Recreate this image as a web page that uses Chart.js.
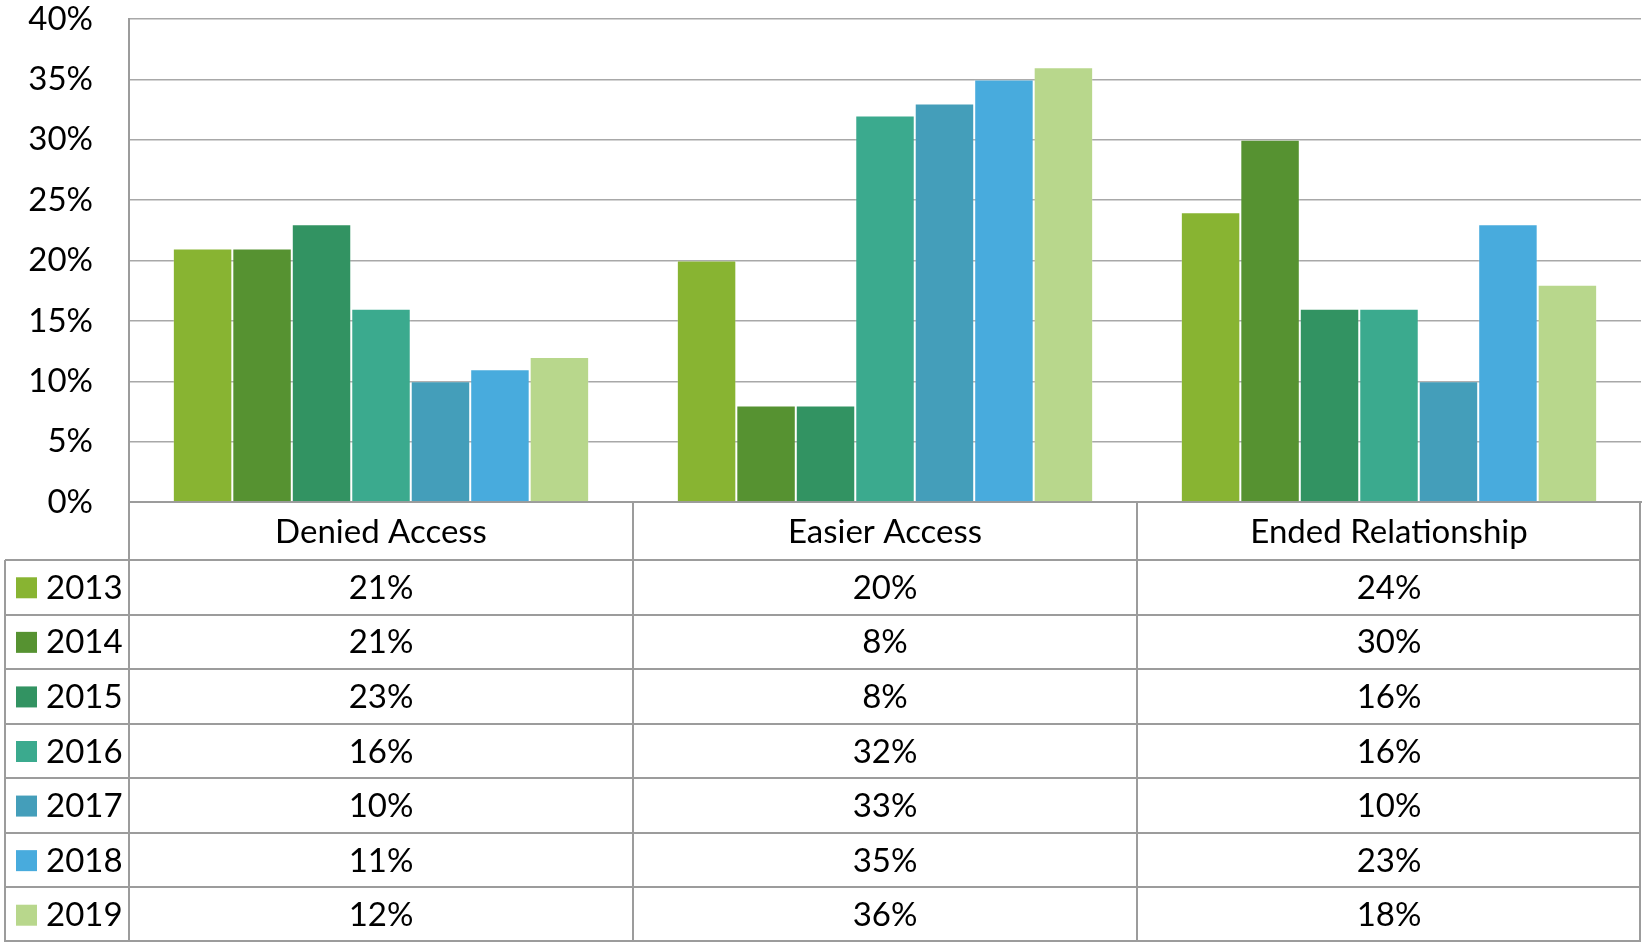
<!DOCTYPE html>
<html>
<head>
<meta charset="utf-8">
<script src="https://cdn.jsdelivr.net/npm/chart.js@4"></script>
<style>
  html, body { margin: 0; padding: 0; background: #fff; }
  #chart { display: block; }
</style>
</head>
<body>
<canvas id="chart" width="1642" height="942"></canvas>
<script>
// Data
const categories = ['Denied Access', 'Easier Access', 'Ended Relationship'];
const years = ['2013', '2014', '2015', '2016', '2017', '2018', '2019'];
const values2013 = [21, 20, 24];
const values2014 = [21, 8, 30];
const values2015 = [23, 8, 16];
const values2016 = [16, 32, 16];
const values2017 = [10, 33, 10];
const values2018 = [11, 35, 23];
const values2019 = [12, 36, 18];
const yTicks = [0, 5, 10, 15, 20, 25, 30, 35, 40];

const seriesValues = [values2013, values2014, values2015, values2016, values2017, values2018, values2019];
const colors = ['#88b432', '#569231', '#329362', '#3baa8e', '#449eba', '#48abdd', '#b8d78c'];

const FONT = 'Lato, "Open Sans", sans-serif';
const FONT_SIZE = 33;
const LINE = '#9c9c9c';

// Draws the data table under the plot, using the x scale for the columns
const dataTable = {
    id: 'dataTable',
    afterDraw(chart) {
        const ctx = chart.ctx;
        const x = chart.scales.x;
        const area = chart.chartArea;
        const colW = (x.right - x.left) / categories.length;
        const headTop = area.bottom;
        const headBottom = headTop + 58;
        const bottom = chart.height;
        const rowH = (bottom - headBottom) / years.length;
        const legLeft = 5;

        ctx.save();
        ctx.strokeStyle = LINE;
        ctx.lineWidth = 2;

        // vertical lines
        ctx.beginPath();
        for (let i = 0; i <= categories.length; i++) {
            let px = Math.round(x.left + colW * i) - (i === categories.length ? 1 : 0);
            ctx.moveTo(px, headTop);
            ctx.lineTo(px, bottom);
        }
        ctx.moveTo(legLeft, headBottom);
        ctx.lineTo(legLeft, bottom);
        // horizontal lines
        for (let r = 0; r <= years.length; r++) {
            let py = Math.round(headBottom + rowH * r) - (r === years.length ? 1 : 0);
            ctx.moveTo(legLeft, py);
            ctx.lineTo(x.right, py);
        }
        ctx.stroke();

        ctx.fillStyle = '#000';
        ctx.font = FONT_SIZE + 'px ' + FONT;
        ctx.textAlign = 'center';
        ctx.textBaseline = 'middle';
        categories.forEach((c, i) => {
            ctx.fillText(c, x.getPixelForValue(i), (headTop + headBottom) / 2 + 1);
        });

        years.forEach((y, r) => {
            const cy = headBottom + rowH * r + rowH / 2 + 1;
            ctx.fillStyle = colors[r];
            ctx.fillRect(16, cy - 11, 21, 21);
            ctx.fillStyle = '#000';
            ctx.textAlign = 'left';
            ctx.fillText(y, 46, cy);
            ctx.textAlign = 'center';
            seriesValues[r].forEach((v, i) => {
                ctx.fillText(v + '%', x.getPixelForValue(i), cy);
            });
        });
        ctx.restore();
    }
};

new Chart(document.getElementById('chart'), {
    type: 'bar',
    data: {
        labels: categories,
        datasets: years.map((y, i) => ({
            label: y,
            data: seriesValues[i],
            backgroundColor: colors[i],
            borderColor: 'rgba(255,255,255,0.2)',
            borderWidth: 1,
            categoryPercentage: 0.826,
            barPercentage: 1.0
        }))
    },
    options: {
        responsive: false,
        animation: false,
        devicePixelRatio: 1,
        layout: { padding: { top: 19, right: 1, left: 0, bottom: 0 } },
        plugins: {
            legend: { display: false },
            tooltip: { enabled: false }
        },
        scales: {
            x: {
                ticks: { display: false },
                grid: { display: false },
                border: { display: true, color: LINE, width: 2 },
                afterFit(scale) { scale.height = 440; }
            },
            y: {
                min: 0,
                max: 40,
                afterBuildTicks(scale) { scale.ticks = yTicks.map(v => ({ value: v })); },
                ticks: {
                    color: '#000',
                    font: { family: FONT, size: FONT_SIZE },
                    padding: 36,
                    callback: v => v + '%'
                },
                grid: { color: '#a8a8a8', lineWidth: 1.5, drawTicks: false },
                border: { display: true, color: LINE, width: 2 },
                afterFit(scale) {
                    scale.width = 129;
                    scale.paddingTop = 0;
                    scale.paddingBottom = 0;
                }
            }
        }
    },
    plugins: [dataTable]
});
</script>
</body>
</html>
